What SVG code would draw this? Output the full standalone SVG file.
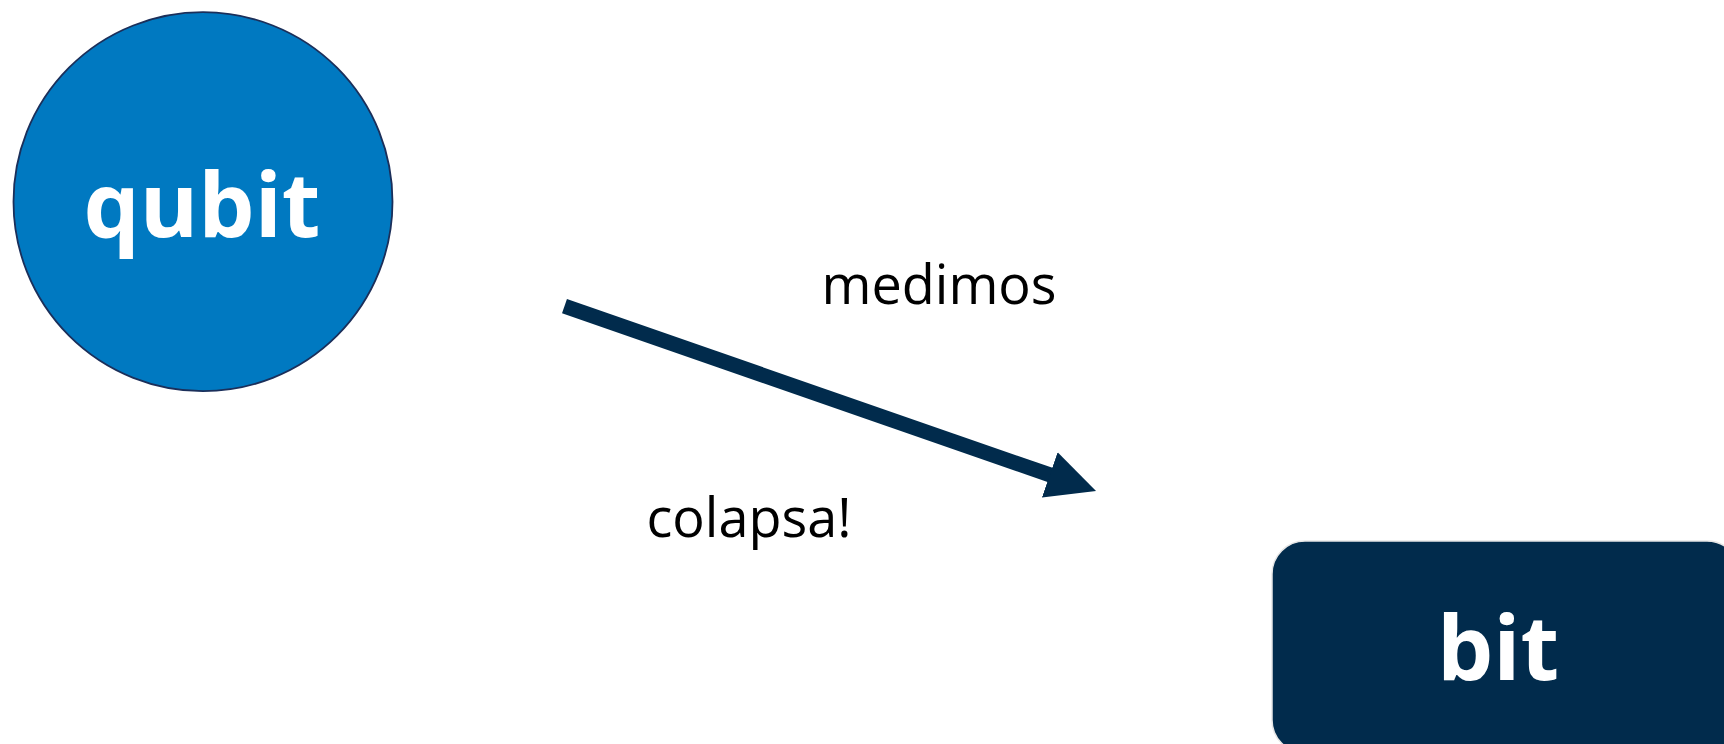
<svg xmlns="http://www.w3.org/2000/svg" width="1724" height="744" viewBox="0 0 1724 744">
<style>
.bold{font-family:"Open Sans","Noto Sans","Liberation Sans",sans-serif;font-weight:700;font-size:89px;fill:#ffffff;text-anchor:middle}
.lbl{font-family:"Open Sans","Noto Sans","Liberation Sans",sans-serif;font-weight:400;font-size:54px;fill:#000000;text-anchor:middle}
</style>
<defs>
<marker id="head" markerUnits="userSpaceOnUse" markerWidth="49" markerHeight="48" viewBox="0 0 49 48" refX="1" refY="24" orient="auto">
<path d="M0,0 L49,24 L0,48 z" fill="#012B4C"/>
</marker>
</defs>
<rect width="1724" height="744" fill="#ffffff"/>
<g id="qubit">
<circle cx="203" cy="201.7" r="189.5" fill="#0079C1" stroke="#1B2F5A" stroke-width="1.8"/>
<text class="bold" x="202" y="237">qubit</text>
</g>
<g id="bit">
<rect x="1272" y="541" width="468" height="212" rx="33" ry="33" fill="#012B4C" stroke="#E6E6E6" stroke-width="1.5"/>
<text class="bold" x="1498" y="680">bit</text>
</g>
<g id="connectors">
<line x1="564.5" y1="306.2" x2="1050.7" y2="475.2" stroke="#012B4C" stroke-width="15" stroke-linecap="butt" marker-end="url(#head)"/>
</g>
<g id="labels">
<text class="lbl" x="939" y="304">medimos</text>
<text class="lbl" x="749" y="537">colapsa!</text>
</g>
</svg>
